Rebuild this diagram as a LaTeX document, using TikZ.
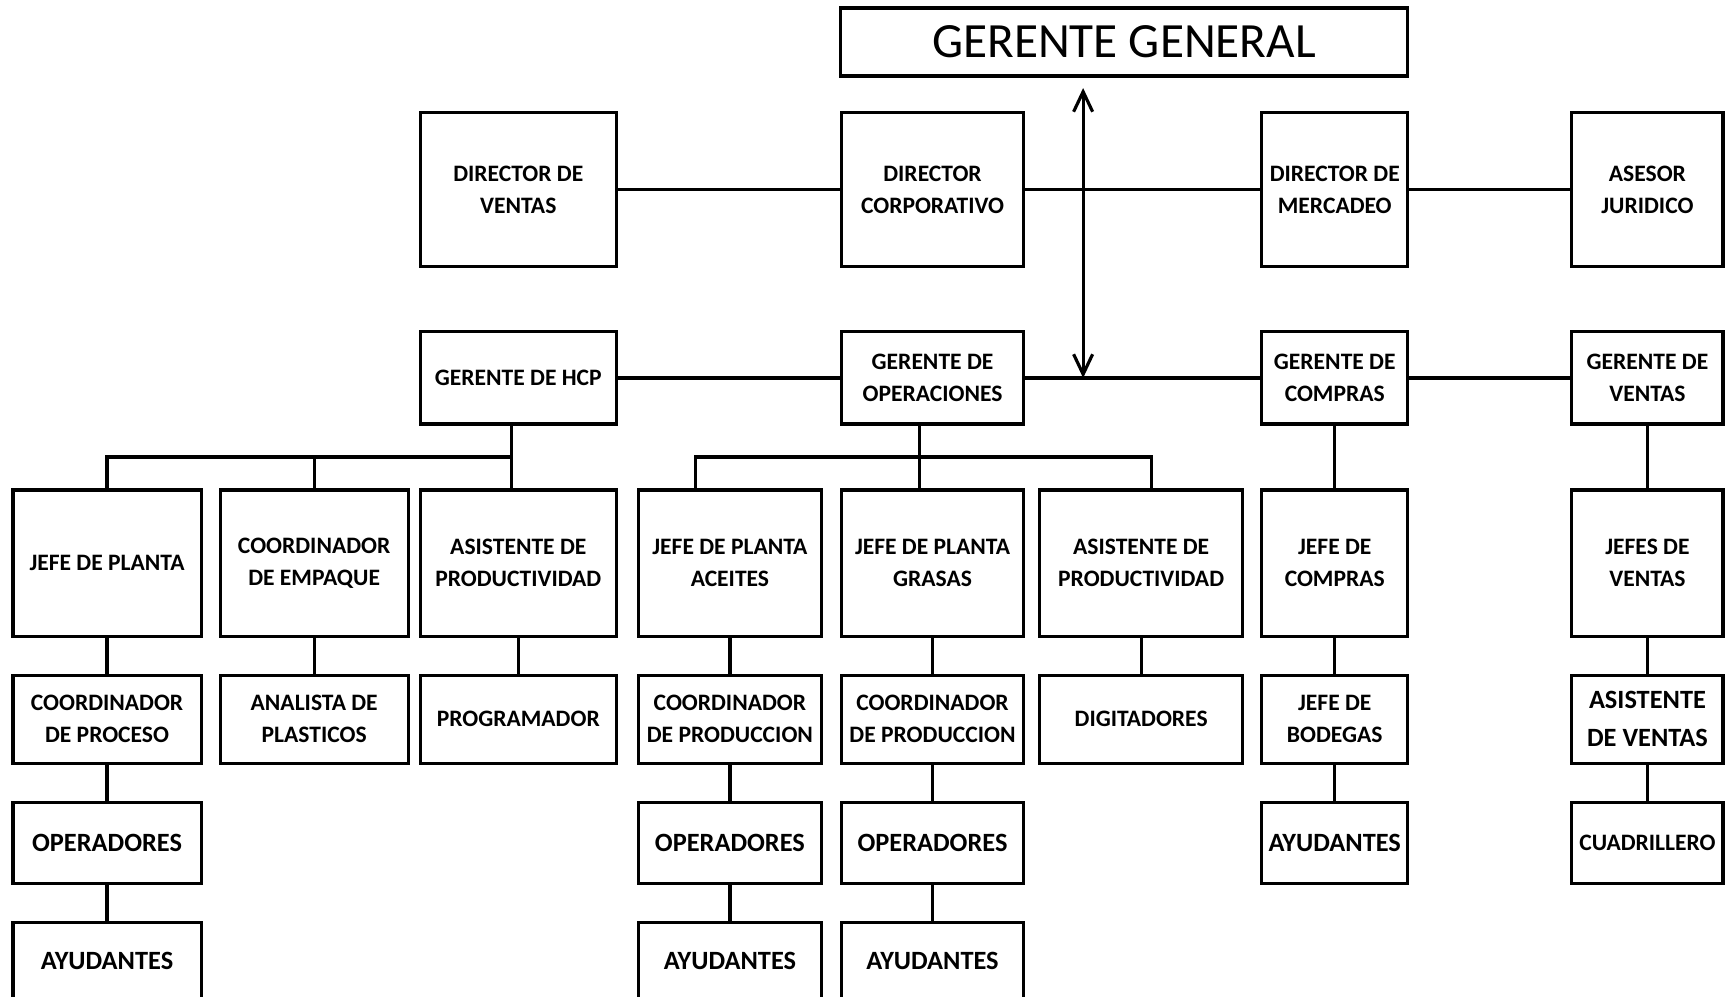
\documentclass[tikz,border=0pt]{standalone}
\usepackage{fontspec}
\setmainfont{Carlito}
\usetikzlibrary{arrows.meta, positioning, calc}

\begin{document}
\begin{tikzpicture}[x=0.01cm, y=-0.01cm,
    cargo/.style={rectangle, draw=black, line width=0.9pt, outer sep=0pt, inner sep=1pt, align=center, font=\bfseries\fontsize{6.7}{9.1}\selectfont},
    grande/.style={font=\bfseries\fontsize{7.5}{10.8}\selectfont},
    linea/.style={draw=black, line width=0.9pt},
    flecha/.style={{Straight Barb[length=2mm, width=1.9mm]}-{Straight Barb[length=2mm, width=1.9mm]}, line width=0.9pt}]

  \path [use as bounding box, fill=white] (0,0) rectangle (1726,997);

  \node [cargo, font=\fontsize{14}{16}\selectfont, minimum width=5.66cm, minimum height=0.68cm] (gg) at (1124,42) {GERENTE GENERAL};

  \node [cargo, anchor=north west, minimum width=1.88cm, minimum height=1.46cm] (jpla) at (13,490) {JEFE DE PLANTA};
  \node [cargo, right=0.19cm of jpla, minimum width=1.88cm, minimum height=1.46cm] (cemp) {COORDINADOR\\DE EMPAQUE};
  \node [cargo, right=0.12cm of cemp, minimum width=1.96cm, minimum height=1.46cm] (aprod) {ASISTENTE DE\\PRODUCTIVIDAD};
  \node [cargo, right=0.22cm of aprod, minimum width=1.83cm, minimum height=1.46cm] (jpac) {JEFE DE PLANTA\\ACEITES};
  \node [cargo, right=0.20cm of jpac, minimum width=1.82cm, minimum height=1.46cm] (jpgr) {JEFE DE PLANTA\\GRASAS};
  \node [cargo, right=0.16cm of jpgr, minimum width=2.03cm, minimum height=1.46cm] (aprodb) {ASISTENTE DE\\PRODUCTIVIDAD};
  \node [cargo, right=0.19cm of aprodb, minimum width=1.46cm, minimum height=1.46cm] (jcom) {JEFE DE\\COMPRAS};
  \node [cargo, right=1.64cm of jcom, minimum width=1.51cm, minimum height=1.46cm] (jven) {JEFES DE\\VENTAS};

  \node [cargo, above=0.66cm of aprod, minimum width=1.96cm, minimum height=0.92cm] (ghcp) {GERENTE DE HCP};
  \node [cargo, above=0.66cm of jpgr, minimum width=1.82cm, minimum height=0.92cm] (gope) {GERENTE DE\\OPERACIONES};
  \node [cargo, above=0.66cm of jcom, minimum width=1.46cm, minimum height=0.92cm] (gcom) {GERENTE DE\\COMPRAS};
  \node [cargo, above=0.66cm of jven, minimum width=1.51cm, minimum height=0.92cm] (gven) {GERENTE DE\\VENTAS};

  \node [cargo, above=0.65cm of ghcp, minimum width=1.96cm, minimum height=1.54cm] (dven) {DIRECTOR DE\\VENTAS};
  \node [cargo, above=0.65cm of gope, minimum width=1.82cm, minimum height=1.54cm] (dcor) {DIRECTOR\\CORPORATIVO};
  \node [cargo, above=0.65cm of gcom, minimum width=1.46cm, minimum height=1.54cm] (dmer) {DIRECTOR DE\\MERCADEO};
  \node [cargo, above=0.65cm of gven, minimum width=1.51cm, minimum height=1.54cm] (ajur) {ASESOR\\JURIDICO};

  \node [cargo, below=0.39cm of jpla, minimum width=1.88cm, minimum height=0.88cm] (cpro) {COORDINADOR\\DE PROCESO};
  \node [cargo, below=0.39cm of cemp, minimum width=1.88cm, minimum height=0.88cm] (apla) {ANALISTA DE\\PLASTICOS};
  \node [cargo, below=0.39cm of aprod, minimum width=1.96cm, minimum height=0.88cm] (prog) {PROGRAMADOR};
  \node [cargo, below=0.39cm of jpac, minimum width=1.83cm, minimum height=0.88cm] (cpac) {COORDINADOR\\DE PRODUCCION};
  \node [cargo, below=0.39cm of jpgr, minimum width=1.82cm, minimum height=0.88cm] (cpgr) {COORDINADOR\\DE PRODUCCION};
  \node [cargo, below=0.39cm of aprodb, minimum width=2.03cm, minimum height=0.88cm] (digi) {DIGITADORES};
  \node [cargo, below=0.39cm of jcom, minimum width=1.46cm, minimum height=0.88cm] (jbod) {JEFE DE\\BODEGAS};
  \node [cargo, grande, below=0.39cm of jven, minimum width=1.51cm, minimum height=0.88cm] (aven) {ASISTENTE\\DE VENTAS};

  \node [cargo, grande, below=0.39cm of cpro, minimum width=1.88cm, minimum height=0.81cm] (opla) {OPERADORES};
  \node [cargo, grande, below=0.39cm of cpac, minimum width=1.83cm, minimum height=0.81cm] (opac) {OPERADORES};
  \node [cargo, grande, below=0.39cm of cpgr, minimum width=1.82cm, minimum height=0.81cm] (opgr) {OPERADORES};
  \node [cargo, grande, below=0.39cm of jbod, minimum width=1.46cm, minimum height=0.81cm] (ayco) {AYUDANTES};
  \node [cargo, below=0.39cm of aven, minimum width=1.51cm, minimum height=0.81cm] (cuad) {CUADRILLERO};

  \node [cargo, grande, below=0.39cm of opla, minimum width=1.88cm, minimum height=0.78cm] (ayla) {AYUDANTES};
  \node [cargo, grande, below=0.39cm of opac, minimum width=1.83cm, minimum height=0.78cm] (ayac) {AYUDANTES};
  \node [cargo, grande, below=0.39cm of opgr, minimum width=1.82cm, minimum height=0.78cm] (aygr) {AYUDANTES};

  \draw [linea] (dven) -- (dcor);
  \draw [linea] (dcor) -- (dmer);
  \draw [linea] (dmer) -- (ajur);
  \draw [linea] (ghcp) -- (gope);
  \draw [linea] (gope) -- (gcom);
  \draw [linea] (gcom) -- (gven);

  \coordinate (cruce) at ($(gope.east)!0.25!(gcom.west)$);
  \coordinate (tope) at ([yshift=-0.12cm]gg.south);
  \draw [flecha] (tope -| cruce) -- (cruce);

  \coordinate (busA) at ($([xshift=-0.07cm]ghcp.south)!0.5!([xshift=-0.07cm]aprod.north)$);
  \draw [linea] ([xshift=-0.07cm]ghcp.south) -- ([xshift=-0.07cm]aprod.north);
  \draw [linea] (jpla.north) |- (busA);
  \draw [linea] (cemp.north) -- (cemp.north |- busA);

  \coordinate (busB) at ($([xshift=-0.13cm]gope.south)!0.5!([xshift=-0.13cm]jpgr.north)$);
  \draw [linea] ([xshift=-0.13cm]gope.south) -- ([xshift=-0.13cm]jpgr.north);
  \draw [linea] ([xshift=-0.34cm]jpac.north) |- (busB) -| ([xshift=0.1cm]aprodb.north);

  \draw [linea] (gcom) -- (jcom);
  \draw [linea] (gven) -- (jven);

  \draw [linea] (jpla) -- (cpro);
  \draw [linea] (cpro) -- (opla);
  \draw [linea] (opla) -- (ayla);
  \draw [linea] (cemp) -- (apla);
  \draw [linea] (aprod) -- (prog);
  \draw [linea] (jpac) -- (cpac);
  \draw [linea] (cpac) -- (opac);
  \draw [linea] (opac) -- (ayac);
  \draw [linea] (jpgr) -- (cpgr);
  \draw [linea] (cpgr) -- (opgr);
  \draw [linea] (opgr) -- (aygr);
  \draw [linea] (aprodb) -- (digi);
  \draw [linea] (jcom) -- (jbod);
  \draw [linea] (jbod) -- (ayco);
  \draw [linea] (jven) -- (aven);
  \draw [linea] (aven) -- (cuad);
\end{tikzpicture}
\end{document}
